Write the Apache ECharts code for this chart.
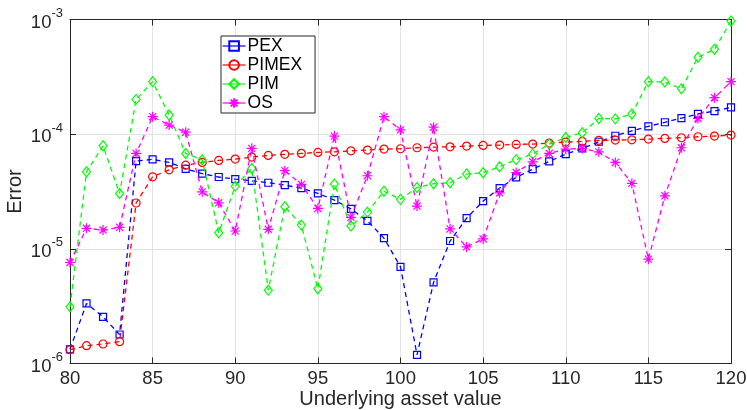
<!DOCTYPE html>
<html><head><meta charset="utf-8">
<script src="https://cdn.jsdelivr.net/npm/echarts@6/dist/echarts.min.js"></script>
<style>html,body{margin:0;padding:0;background:#fff}#c{width:747px;height:410px}</style>
</head><body><div id="c"></div>
<script>
var xs = [80,81,82,83,84,85,86,87,88,89,90,91,92,93,94,95,96,97,98,99,100,101,102,103,104,105,106,107,108,109,110,111,112,113,114,115,116,117,118,119,120];
var seriesNames = ['PEX','PIMEX','PIM','OS'];
var pex = [1.33e-6,3.34e-6,2.55e-6,1.79e-6,5.82e-5,6.03e-5,5.67e-5,4.99e-5,4.52e-5,4.23e-5,4.06e-5,3.92e-5,3.77e-5,3.60e-5,3.38e-5,3.05e-5,2.66e-5,2.23e-5,1.75e-5,1.24e-5,6.96e-6,1.19e-6,5.09e-6,1.17e-5,1.85e-5,2.61e-5,3.39e-5,4.2e-5,4.95e-5,5.78e-5,6.70e-5,7.51e-5,8.59e-5,9.69e-5,1.07e-4,1.17e-4,1.27e-4,1.38e-4,1.50e-4,1.59e-4,1.71e-4];
var pimex = [1.32e-6,1.43e-6,1.48e-6,1.55e-6,2.51e-5,4.25e-5,4.89e-5,5.37e-5,5.67e-5,5.90e-5,6.06e-5,6.31e-5,6.53e-5,6.67e-5,6.80e-5,6.93e-5,7.02e-5,7.16e-5,7.26e-5,7.41e-5,7.46e-5,7.61e-5,7.71e-5,7.76e-5,7.87e-5,7.98e-5,8.03e-5,8.14e-5,8.20e-5,8.36e-5,8.53e-5,8.65e-5,8.82e-5,8.88e-5,8.93e-5,9.06e-5,9.18e-5,9.31e-5,9.49e-5,9.62e-5,9.81e-5];
var pim = [3.12e-6,4.70e-5,7.92e-5,3.04e-5,2.01e-4,2.87e-4,1.47e-4,6.79e-5,5.98e-5,1.38e-5,3.52e-5,5.02e-5,4.36e-6,2.33e-5,1.61e-5,4.48e-6,3.67e-5,1.58e-5,2.09e-5,3.18e-5,2.70e-5,3.43e-5,3.70e-5,3.77e-5,4.49e-5,4.61e-5,5.20e-5,6.0e-5,6.70e-5,8.2e-5,9.37e-5,1.03e-4,1.37e-4,1.36e-4,1.50e-4,2.87e-4,2.85e-4,2.49e-4,4.68e-4,5.50e-4,9.7e-4];
var os = [7.6e-6,1.51e-5,1.46e-5,1.54e-5,6.79e-5,1.42e-4,1.20e-4,1.04e-4,3.14e-5,2.52e-5,1.43e-5,7.52e-5,1.48e-5,4.80e-5,3.65e-5,2.25e-5,9.62e-5,1.88e-5,4.34e-5,1.42e-4,1.09e-4,2.36e-5,1.15e-4,1.49e-5,1.04e-5,1.22e-5,3.08e-5,4.63e-5,5.74e-5,6.79e-5,7.41e-5,7.5e-5,7.01e-5,5.67e-5,3.72e-5,8.13e-6,2.90e-5,7.61e-5,1.37e-4,2.08e-4,2.87e-4];
var xTicks = [80,85,90,95,100,105,110,115,120];
var yTickExps = [-6,-5,-4,-3];

var FONT = '"Liberation Sans", Arial, Helvetica, sans-serif';
var TXT = '#262626';
var colors = ['#0000ff','#ff0000','#00ff00','#ff00ff'];
var starPath = 'path://M0,-10 L0,10 M-10,0 L10,0 M-7.07,-7.07 L7.07,7.07 M-7.07,7.07 L7.07,-7.07';
var symbols = ['rect','circle','diamond',starPath];
var symSizes = [7,8,[8,10],10];
var datas = [pex,pimex,pim,os];

function pairs(arr){ return xs.map(function(x,i){ return [x, arr[i]]; }); }

var series = seriesNames.map(function(n,i){
  return {
    name: n, type: 'line', data: pairs(datas[i]),
    symbol: symbols[i], symbolSize: symSizes[i], showAllSymbol: true,
    lineStyle: {color: colors[i], width: 1.3, type: [5,4]},
    itemStyle: {color: 'rgba(255,255,255,0)', borderColor: colors[i], borderWidth: 1.2},
    emphasis: {disabled: true}, animation: false, z: 2 + i
  };
});

var chart = echarts.init(document.getElementById('c'), null, {renderer: 'canvas'});
chart.setOption({
  backgroundColor: '#fff',
  animation: false,
  grid: {left: 70, right: 16, top: 19.5, bottom: 46.5, show: true, backgroundColor: '#fff', borderWidth: 0, outerBoundsMode: 'none', containLabel: false},
  legend: {
    data: seriesNames.map(function(n,i){ return {name: n, lineStyle: {type: 'solid', width: 1.2}}; }),
    orient: 'vertical', left: 221, top: 36, itemWidth: 23, itemHeight: 12, itemGap: 1,
    padding: [1, 13, 1, 1], borderColor: '#262626', borderWidth: 1, backgroundColor: '#fff',
    textStyle: {fontFamily: FONT, fontSize: 17.5, lineHeight: 17, color: '#000', padding: [0,0,0,-3]},
    selectedMode: false
  },
  xAxis: [{
    type: 'value', min: 80, max: 120, interval: 5, position: 'bottom',
    name: 'Underlying asset value', nameLocation: 'middle', nameGap: 26, nameMoveOverlap: false,
    nameTextStyle: {fontFamily: FONT, fontSize: 20, color: TXT, verticalAlign: 'top'},
    axisLine: {show: true, lineStyle: {color: TXT, width: 1}},
    axisTick: {show: true, inside: true, length: 6, lineStyle: {color: TXT}},
    axisLabel: {fontFamily: FONT, fontSize: 18.5, color: TXT, margin: 6},
    splitLine: {show: true, lineStyle: {color: '#e3e3e3', width: 1}}
  },{
    type: 'value', min: 80, max: 120, interval: 5, position: 'top',
    axisLine: {show: true, lineStyle: {color: TXT, width: 1}},
    axisTick: {show: true, inside: true, length: 6, lineStyle: {color: TXT}},
    axisLabel: {show: false}, splitLine: {show: false}
  }],
  yAxis: [{
    type: 'log', logBase: 10, min: 1e-6, max: 1e-3, position: 'left',
    name: 'Error', nameLocation: 'middle', nameGap: 45, nameRotate: 90, nameMoveOverlap: false,
    nameTextStyle: {fontFamily: FONT, fontSize: 20, color: TXT},
    axisLine: {show: true, lineStyle: {color: TXT, width: 1}},
    axisTick: {show: true, inside: true, length: 6, lineStyle: {color: TXT}},
    axisLabel: {
      margin: 7, color: TXT, fontFamily: FONT,
      formatter: function(v){ var e = Math.round(Math.log10(v)); return '{b|10}{s|' + e + '}'; },
      rich: {
        b: {fontFamily: FONT, fontSize: 18.5, color: TXT, verticalAlign: 'bottom'},
        s: {fontFamily: FONT, fontSize: 13, color: TXT, verticalAlign: 'top', padding: [0,0,12,0]}
      }
    },
    splitLine: {show: true, lineStyle: {color: '#e3e3e3', width: 1}}
  },{
    type: 'log', logBase: 10, min: 1e-6, max: 1e-3, position: 'right',
    axisLine: {show: true, lineStyle: {color: TXT, width: 1}},
    axisTick: {show: true, inside: true, length: 6, lineStyle: {color: TXT}},
    axisLabel: {show: false}, splitLine: {show: false}
  }],
  series: series
});
</script>
</body></html>
